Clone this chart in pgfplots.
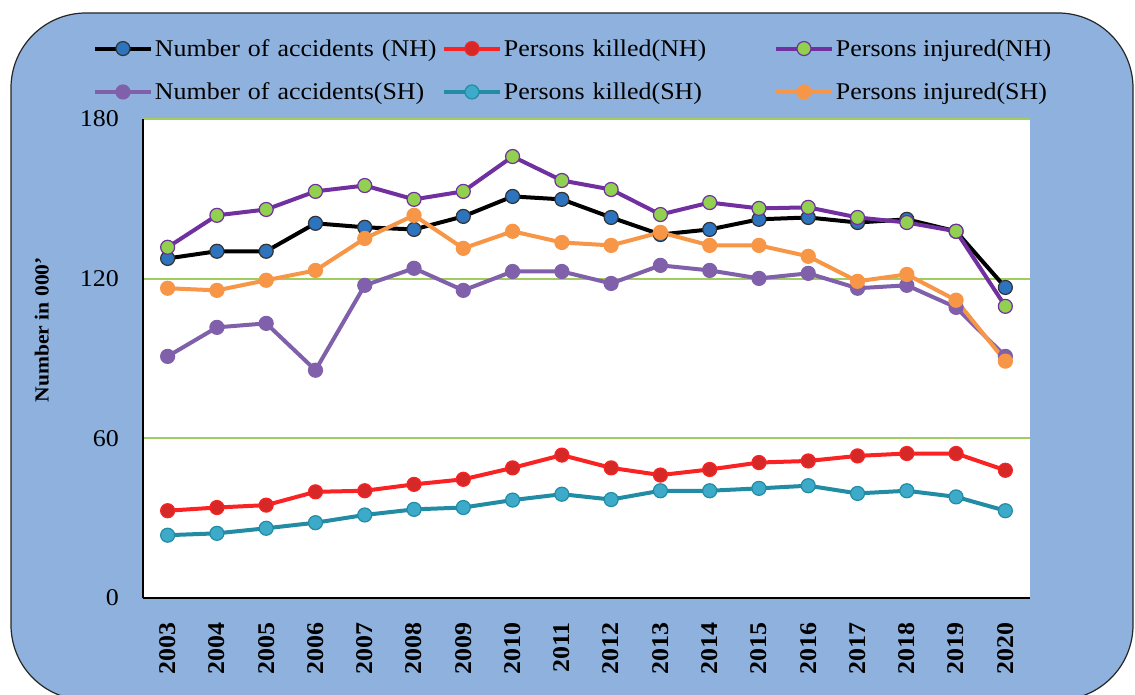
\documentclass[border=0pt]{standalone}
\usepackage{fontspec}
\setmainfont{Liberation Serif}[FakeStretch=1.08]
\usepackage{pgfplots}
\pgfplotsset{compat=1.18}

\definecolor{bgblue}{RGB}{142,178,221}
\definecolor{gridgreen}{RGB}{160,205,95}
\definecolor{mblue}{RGB}{45,115,190}
\definecolor{mgreen}{RGB}{146,208,80}
\definecolor{nhpurple}{RGB}{112,48,160}
\definecolor{shpurple}{RGB}{128,96,170}
\definecolor{kred}{RGB}{250,35,35}
\definecolor{kredm}{RGB}{215,40,40}
\definecolor{teal}{RGB}{35,140,165}
\definecolor{tealm}{RGB}{60,170,200}
\definecolor{iorange}{RGB}{247,150,70}

\begin{document}
\begin{tikzpicture}
\useasboundingbox (0,0) rectangle (1135pt,694pt);
\fill[white] (0,0) rectangle (1135pt,694pt);
\draw[fill=bgblue, draw=black!85, line width=1.2pt, rounded corners=75pt] (11pt,-6pt) rectangle (1133pt,681pt);

\begin{axis}[
at={(143pt,96pt)}, anchor=south west,
scale only axis, width=887pt, height=479pt,
xmin=2002.5, xmax=2020.5, ymin=0, ymax=180,
xtick={2003,...,2020},
ytick={60,120,180},
extra y ticks={0},
extra y tick style={grid=none},
ymajorgrids,
grid style={gridgreen, line width=2pt},
axis x line*=bottom, axis y line*=left,
axis line style={black, line width=1.5pt, -},
major tick length=0pt,
axis background/.style={fill=white},
/pgf/number format/assume math mode=true,
/pgf/number format/1000 sep={},
yticklabel style={font=\fontsize{24}{28}\selectfont, anchor=east, inner sep=0pt, xshift=-24pt},
xticklabel style={font=\bfseries\fontsize{24}{28}\selectfont, rotate=90, anchor=east, inner sep=0pt},
xticklabel shift=24pt,
ylabel={Number in 000'},
every axis y label/.style={at={(axis description cs:-0.114,0.56)}, rotate=90, anchor=center, font=\bfseries\fontsize{20}{24}\selectfont},
legend columns=3,
legend cell align=left,
legend style={at={(axis description cs:-0.06,1.175)}, anchor=north west, fill=none, draw=none,
  font=\fontsize{24}{28}\selectfont, row sep=21pt, column sep=0pt, nodes={inner sep=2pt}},
legend image code/.code={\draw[mark repeat=2, mark phase=2, #1] plot coordinates {(0pt,0pt) (28pt,0pt) (56pt,0pt)};},
every axis plot/.append style={line width=4pt, mark=*, mark size=7pt},
]
\addplot[black, mark options={fill=mblue, draw=black!80, line width=1.2pt}] coordinates {
(2003,127.6) (2004,130.3) (2005,130.3) (2006,140.8) (2007,139.3) (2008,138.5)
(2009,143.4) (2010,150.9) (2011,149.8) (2012,143.0) (2013,136.6) (2014,138.5)
(2015,142.3) (2016,143.0) (2017,141.1) (2018,142.3) (2019,137.8) (2020,116.7)
};
\addlegendentry[text width=285pt]{Number of accidents (NH)}
\addplot[kred, mark options={fill=kredm, draw=kred, line width=1.2pt}] coordinates {
(2003,32.8) (2004,34.0) (2005,34.9) (2006,39.9) (2007,40.3) (2008,42.7)
(2009,44.6) (2010,48.9) (2011,53.7) (2012,48.9) (2013,46.2) (2014,48.3)
(2015,50.9) (2016,51.5) (2017,53.4) (2018,54.3) (2019,54.3) (2020,48.0)
};
\addlegendentry[text width=268pt]{Persons killed(NH)}
\addplot[nhpurple, mark options={fill=mgreen, draw=nhpurple, line width=1.2pt}] coordinates {
(2003,131.8) (2004,143.8) (2005,146.0) (2006,152.8) (2007,155.0) (2008,149.8)
(2009,152.8) (2010,165.9) (2011,156.9) (2012,153.5) (2013,144.1) (2014,148.6)
(2015,146.4) (2016,146.8) (2017,143.0) (2018,141.1) (2019,137.8) (2020,109.6)
};
\addlegendentry{Persons injured(NH)}
\addplot[shpurple, mark options={fill=shpurple, draw=shpurple, line width=1.2pt}] coordinates {
(2003,90.8) (2004,101.7) (2005,103.2) (2006,85.6) (2007,117.5) (2008,123.9)
(2009,115.6) (2010,122.7) (2011,122.7) (2012,118.2) (2013,125.0) (2014,123.1)
(2015,120.1) (2016,122.0) (2017,116.4) (2018,117.5) (2019,109.2) (2020,90.8)
};
\addlegendentry[text width=285pt]{Number of accidents(SH)}
\addplot[teal, mark options={fill=tealm, draw=teal, line width=1.2pt}] coordinates {
(2003,23.6) (2004,24.3) (2005,26.2) (2006,28.3) (2007,31.2) (2008,33.3)
(2009,34.0) (2010,36.8) (2011,39.0) (2012,37.0) (2013,40.3) (2014,40.3)
(2015,41.2) (2016,42.2) (2017,39.3) (2018,40.3) (2019,38.0) (2020,32.8)
};
\addlegendentry[text width=268pt]{Persons killed(SH)}
\addplot[iorange, mark options={fill=iorange, draw=iorange, line width=1.2pt}] coordinates {
(2003,116.4) (2004,115.6) (2005,119.4) (2006,123.1) (2007,135.1) (2008,143.8)
(2009,131.4) (2010,137.8) (2011,133.6) (2012,132.5) (2013,137.4) (2014,132.5)
(2015,132.5) (2016,128.4) (2017,119.0) (2018,121.6) (2019,111.9) (2020,89.0)
};
\addlegendentry{Persons injured(SH)}
\end{axis}
\end{tikzpicture}
\end{document}
